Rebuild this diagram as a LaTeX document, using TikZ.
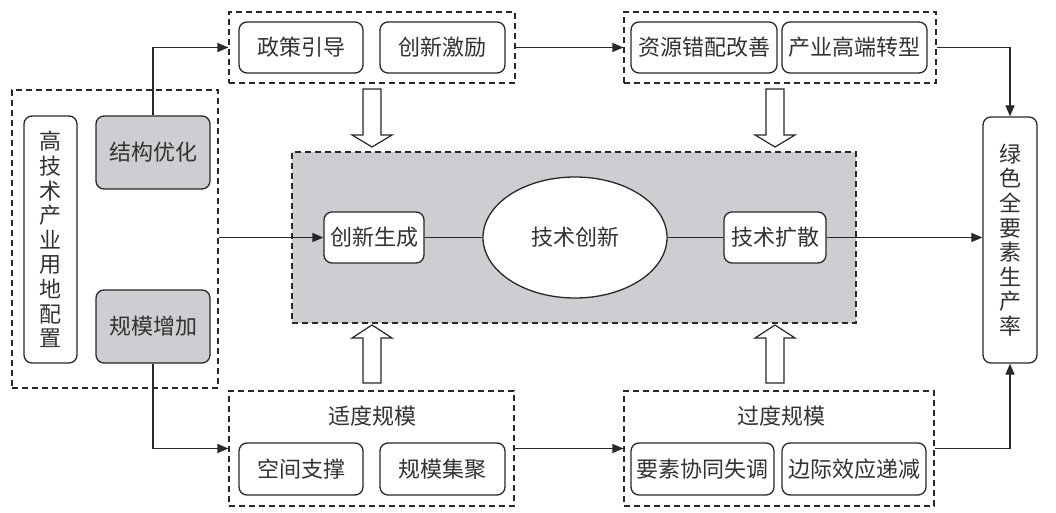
\documentclass[tikz,border=0pt]{standalone}
\usepackage{fontspec}
\setmainfont{Noto Sans CJK SC}
\usetikzlibrary{shapes.geometric,arrows.meta}
\definecolor{fillgray}{RGB}{205,205,210}
\definecolor{ink}{RGB}{40,40,40}
\definecolor{txt}{RGB}{50,50,50}
\begin{document}
\begin{tikzpicture}[x=1pt,y=-1pt,
  rbox/.style={draw=ink, line width=1.3pt, rounded corners=8pt, inner sep=0pt, fill=white,
    font=\fontsize{22}{24.6}\selectfont, text=txt, align=center},
  gbox/.style={rbox, fill=fillgray},
  grp/.style={draw=ink, line width=1.2pt, dash pattern=on 6pt off 4pt, inner sep=0pt},
  conn/.style={draw=ink, line width=1.2pt},
  arr/.style={conn, -{Triangle[length=11pt,width=9pt]}},
  hollow/.style={draw=ink, line width=1.2pt, fill=white, line join=miter},
  lbl/.style={font=\fontsize{22}{25}\selectfont, text=txt, inner sep=0pt}
]
\useasboundingbox (0,0) rectangle (1056,513);
\fill[white] (0,0) rectangle (1056,513);

% groups
\node[grp, minimum width=286pt, minimum height=71pt] (tl) at (372,47.5) {};
\node[grp, minimum width=312pt, minimum height=71pt] (tr) at (780,47.5) {};
\node[grp, minimum width=206pt, minimum height=298pt] (lg) at (115,239) {};
\node[grp, minimum width=285pt, minimum height=115pt] (bl) at (371.5,448.5) {};
\node[grp, minimum width=310pt, minimum height=115pt] (br) at (779,448.5) {};
\node[grp, fill=fillgray, minimum width=564pt, minimum height=171pt] (gray) at (574,237.5) {};

% top boxes
\node[rbox, minimum width=124pt, minimum height=51pt] (zc) at (301,47.5) {政策引导};
\node[rbox, minimum width=125pt, minimum height=51pt] (cj) at (442.5,47.5) {创新激励};
\node[rbox, minimum width=146pt, minimum height=51pt] (zy) at (704,47.5) {资源错配改善};
\node[rbox, minimum width=145pt, minimum height=51pt] (cy) at (854.5,47.5) {产业高端转型};

% right box
\node[rbox, minimum width=54pt, minimum height=246pt] (lv) at (1010,240) {绿\\色\\全\\要\\素\\生\\产\\率};

% left boxes
\node[rbox, minimum width=53pt, minimum height=247pt] (gj) at (50.5,239.5) {高\\技\\术\\产\\业\\用\\地\\配\\置};
\node[gbox, minimum width=114pt, minimum height=73pt] (jg) at (153,152.5) {结构优化};
\node[gbox, minimum width=114pt, minimum height=73pt] (gm) at (153,326.5) {规模增加};

% centre
\node[rbox, minimum width=100pt, minimum height=51pt] (cx) at (374,237.5) {创新生成};
\node[draw=ink, line width=1.3pt, ellipse, fill=white, inner sep=0pt, minimum width=184pt, minimum height=121pt,
  font=\fontsize{22}{25}\selectfont, text=txt] (el) at (575,237.5) {技术创新};
\node[rbox, minimum width=102pt, minimum height=51pt] (ks) at (775,237.5) {技术扩散};

% bottom boxes
\node[lbl] (sd) at (372,416) {适度规模};
\node[rbox, minimum width=124pt, minimum height=52pt] (kj) at (301,469) {空间支撑};
\node[rbox, minimum width=125pt, minimum height=52pt] (jj) at (442.5,469) {规模集聚};
\node[lbl] (gd) at (781,416) {过度规模};
\node[rbox, minimum width=143pt, minimum height=52pt] (ys) at (702.5,469) {要素协同失调};
\node[rbox, minimum width=144pt, minimum height=52pt] (bj) at (854,469) {边际效应递减};

% connectors
\draw[arr] (jg.north) |- (tl.west);
\draw[arr] (gm.south) |- (bl.west);
\draw[arr] (tl.east) -- (tr.west);
\draw[arr] (bl.east) -- (br.west);
\draw[arr] (tr.east) -| (lv.north);
\draw[arr] (br.east) -| (lv.south);
\draw[arr] (cx.west -| lg.east) -- (cx.west);
\draw[conn] (cx.east) -- (el.west);
\draw[conn] (el.east) -- (ks.west);
\draw[arr] (ks.east) -- (ks.east -| lv.west);

% hollow block arrows
\foreach \cxx in {372,775}{
  \draw[hollow] (\cxx-9,89) -- (\cxx+9,89) -- (\cxx+9,135) -- (\cxx+20,135) -- (\cxx,147)
     -- (\cxx-20,135) -- (\cxx-9,135) -- cycle;
  \draw[hollow] (\cxx-9,383) -- (\cxx+9,383) -- (\cxx+9,338) -- (\cxx+20,338) -- (\cxx,325)
     -- (\cxx-20,338) -- (\cxx-9,338) -- cycle;
}
\end{tikzpicture}
\end{document}
